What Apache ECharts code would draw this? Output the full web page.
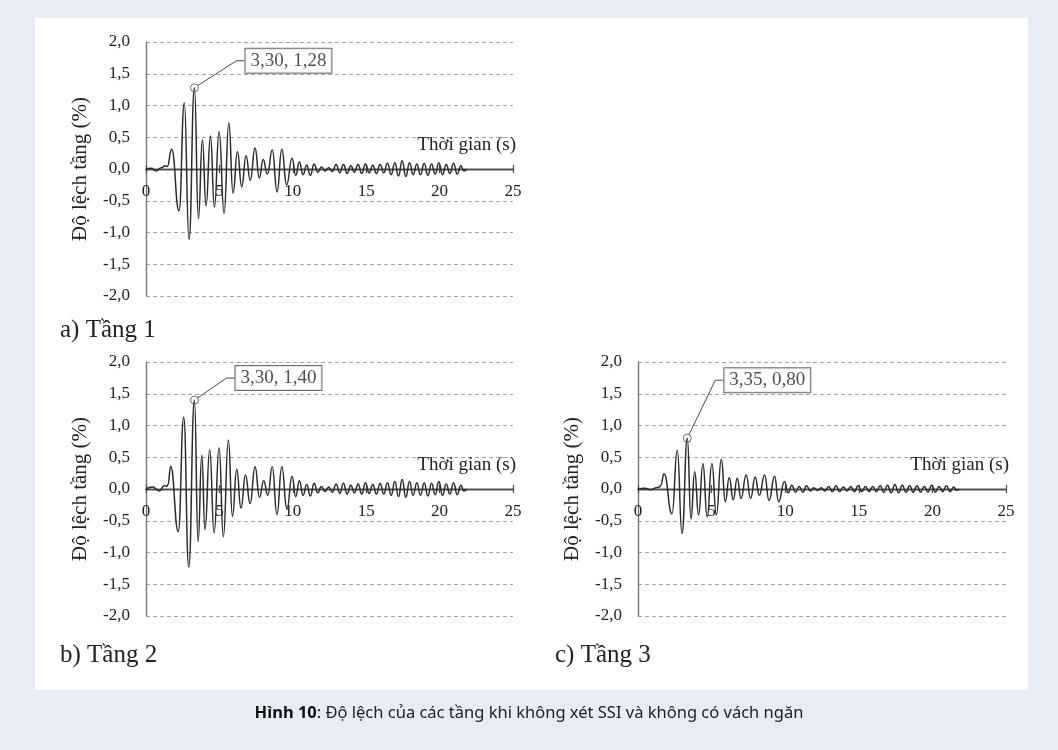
<!DOCTYPE html>
<html>
<head>
<meta charset="utf-8">
<script src="https://cdn.jsdelivr.net/npm/echarts@6/dist/echarts.min.js"></script>
<style>
  html, body { margin: 0; padding: 0; background: #e8ecf6; }
  #chart { width: 1058px; height: 750px; }
</style>
</head>
<body>
<div id="chart"></div>
<script>
// Story drift (%) versus time (s): turning points of each record
const floor1Drift = [
  [0, 0], [0.35, 0.01], [0.7, -0.03], [1.05, 0.02], [1.3, 0.05], [1.45, 0.04],
  [1.75, 0.31], [2.25, -0.66], [2.61, 1.04], [2.93, -1.11], [3.30, 1.28], [3.57, -0.78],
  [3.84, 0.46], [4.09, -0.58], [4.39, 0.52], [4.66, -0.6], [4.98, 0.59], [5.32, -0.70],
  [5.64, 0.73], [5.93, -0.38], [6.23, 0.27], [6.52, -0.28], [6.82, 0.21], [7.10, -0.18],
  [7.43, 0.33], [7.72, -0.14], [7.98, 0.15], [8.27, -0.08], [8.60, 0.30], [8.93, -0.36],
  [9.25, 0.31], [9.58, -0.25], [9.95, 0.17],
  [10.2, -0.10], [10.45, 0.11], [10.7, -0.09], [10.95, 0.06], [11.2, -0.10], [11.45, 0.08],
  [11.7, -0.05], [11.95, 0.03], [12.2, -0.03], [12.45, 0.02], [12.7, -0.04], [12.95, 0.07],
  [13.2, -0.06], [13.45, 0.07], [13.7, -0.07], [13.95, 0.05], [14.2, -0.05], [14.45, 0.07],
  [14.7, -0.07], [14.95, 0.08], [15.2, -0.06], [15.45, 0.06], [15.7, -0.07], [15.95, 0.07],
  [16.2, -0.06], [16.45, 0.09], [16.7, -0.09], [16.95, 0.10], [17.2, -0.11], [17.45, 0.13],
  [17.7, -0.12], [17.95, 0.10], [18.2, -0.09], [18.45, 0.08], [18.7, -0.09], [18.95, 0.09],
  [19.2, -0.10], [19.45, 0.08], [19.7, -0.08], [19.95, 0.10], [20.2, -0.09], [20.45, 0.07],
  [20.7, -0.07], [20.95, 0.09], [21.2, -0.08], [21.45, 0.05], [21.65, -0.03], [21.85, 0]
];

const floor2Drift = [
  [0, 0], [0.45, 0.03], [0.9, -0.03], [1.25, 0.05], [1.4, 0.04], [1.5, 0.07],
  [1.68, 0.36], [2.2, -0.67], [2.57, 1.13], [2.91, -1.23], [3.30, 1.40], [3.55, -0.83],
  [3.80, 0.53], [4.02, -0.64], [4.34, 0.62], [4.64, -0.69], [4.98, 0.65], [5.27, -0.75],
  [5.61, 0.77], [5.89, -0.43], [6.18, 0.31], [6.47, -0.30], [6.78, 0.22], [7.09, -0.23],
  [7.43, 0.35], [7.73, -0.13], [8.02, 0.13], [8.30, -0.10], [8.60, 0.35], [8.92, -0.40],
  [9.25, 0.35], [9.60, -0.32], [9.95, 0.20],
  [10.2, -0.12], [10.45, 0.13], [10.7, -0.10], [10.95, 0.07], [11.2, -0.11], [11.45, 0.09],
  [11.7, -0.06], [11.95, 0.04], [12.2, -0.04], [12.45, 0.03], [12.7, -0.05], [12.95, 0.08],
  [13.2, -0.07], [13.45, 0.09], [13.7, -0.08], [13.95, 0.06], [14.2, -0.06], [14.45, 0.08],
  [14.7, -0.08], [14.95, 0.10], [15.2, -0.07], [15.45, 0.07], [15.7, -0.08], [15.95, 0.09],
  [16.2, -0.08], [16.45, 0.10], [16.7, -0.10], [16.95, 0.12], [17.2, -0.12], [17.45, 0.15],
  [17.7, -0.13], [17.95, 0.12], [18.2, -0.10], [18.45, 0.10], [18.7, -0.10], [18.95, 0.10],
  [19.2, -0.11], [19.45, 0.09], [19.7, -0.09], [19.95, 0.12], [20.2, -0.10], [20.45, 0.08],
  [20.7, -0.08], [20.95, 0.10], [21.2, -0.09], [21.45, 0.06], [21.65, -0.03], [21.85, 0]
];

const floor3Drift = [
  [0, 0], [0.45, 0.01], [0.9, -0.01], [1.25, 0.02], [1.45, 0.03], [1.55, 0.06],
  [1.77, 0.24], [2.31, -0.39], [2.67, 0.61], [2.99, -0.70], [3.35, 0.80], [3.60, -0.47],
  [3.85, 0.27], [4.12, -0.41], [4.41, 0.40], [4.70, -0.44], [5.02, 0.40], [5.32, -0.41],
  [5.66, 0.47], [5.93, -0.20], [6.20, 0.18], [6.47, -0.17], [6.74, 0.17], [7.00, -0.15],
  [7.35, 0.22], [7.65, -0.15], [7.96, 0.19], [8.24, -0.10], [8.60, 0.22], [8.90, -0.18],
  [9.28, 0.20], [9.55, -0.20], [9.95, 0.12],
  [10.2, -0.06], [10.45, 0.06], [10.7, -0.05], [10.95, 0.04], [11.2, -0.05], [11.45, 0.05],
  [11.7, -0.03], [11.95, 0.02], [12.2, -0.02], [12.45, 0.02], [12.7, -0.03], [12.95, 0.04],
  [13.2, -0.04], [13.45, 0.05], [13.7, -0.04], [13.95, 0.03], [14.2, -0.03], [14.45, 0.04],
  [14.7, -0.04], [14.95, 0.05], [15.2, -0.04], [15.45, 0.04], [15.7, -0.04], [15.95, 0.04],
  [16.2, -0.04], [16.45, 0.05], [16.7, -0.05], [16.95, 0.06], [17.2, -0.06], [17.45, 0.07],
  [17.7, -0.06], [17.95, 0.06], [18.2, -0.05], [18.45, 0.05], [18.7, -0.05], [18.95, 0.05],
  [19.2, -0.05], [19.45, 0.04], [19.7, -0.05], [19.95, 0.06], [20.2, -0.05], [20.45, 0.04],
  [20.7, -0.04], [20.95, 0.05], [21.2, -0.04], [21.45, 0.03], [21.65, -0.02], [21.85, 0]
];

const panelTitles = ['a) Tầng 1', 'b) Tầng 2', 'c) Tầng 3'];
const timeAxisName = 'Thời gian (s)';
const driftAxisName = 'Độ lệch tầng (%)';
const captionBold = 'Hình 10';
const captionText = ': Độ lệch của các tầng khi không xét SSI và không có vách ngăn';

const timeRange = [0, 25, 5];
const driftRange = [-2, 2, 0.5];

// ---- layout ----
const serif = 'Liberation Serif, Times New Roman, serif';
const panels = [
  { data: floor1Drift, box: { left: 146, top: 42, width: 367, height: 254 }, shift: [94, -27], title: [60, 318] },
  { data: floor2Drift, box: { left: 146, top: 362, width: 367, height: 254 }, shift: [84, -22], title: [60, 643] },
  { data: floor3Drift, box: { left: 638, top: 362, width: 368, height: 254 }, shift: [80, -58], title: [555, 643] }
];
const n = panels.length;

const comma = (v, d) => v.toFixed(d).replace('.', ',');
const peakOf = data => data.reduce((a, b) => (b[1] > a[1] ? b : a));
const axisGray = '#4a4a4a';

const grid = [], xAxis = [], yAxis = [], series = [], title = [];

// Plot grids: full drift range, zero line carries upward tick marks
panels.forEach((p, i) => {
  grid.push(Object.assign({ containLabel: false, outerBoundsMode: 'none' }, p.box));

  xAxis.push({
    gridIndex: i, type: 'value', position: 'bottom',
    min: timeRange[0], max: timeRange[1], interval: timeRange[2],
    axisLine: { show: true, onZero: true, lineStyle: { color: axisGray, width: 1.4 } },
    axisTick: { show: true, inside: true, length: 4, lineStyle: { color: axisGray, width: 1.2 } },
    axisLabel: { show: false }, splitLine: { show: false }
  });

  yAxis.push({
    gridIndex: i, type: 'value', position: 'left',
    min: driftRange[0], max: driftRange[1], interval: driftRange[2],
    axisLine: { show: true, onZero: false, lineStyle: { color: '#777', width: 1.4 } },
    axisTick: { show: false },
    axisLabel: { margin: 16, fontFamily: serif, fontSize: 17, color: '#222', formatter: v => comma(v, 1) },
    splitLine: { show: true, lineStyle: { type: [4, 3], color: '#a4a4a4', width: 1 } },
    name: driftAxisName, nameLocation: 'middle', nameGap: 55, nameRotate: 90,
    nameTextStyle: { fontFamily: serif, fontSize: 21, color: '#222' }
  });

  series.push({
    type: 'line', xAxisIndex: i, yAxisIndex: i, data: p.data,
    showSymbol: false, smooth: 0.5, smoothMonotone: 'x',
    lineStyle: { color: '#2b2b2b', width: 1.5 }, z: 3, silent: true, animation: false
  });

  const peak = peakOf(p.data);
  series.push({
    type: 'scatter', xAxisIndex: i, yAxisIndex: i, data: [peak],
    symbol: 'circle', symbolSize: 8, z: 5, animation: false,
    itemStyle: { color: 'rgba(255,255,255,0)', borderColor: axisGray, borderWidth: 1 },
    label: {
      show: true, position: 'inside',
      formatter: prm => comma(prm.value[0], 2) + ', ' + comma(prm.value[1], 2),
      fontFamily: serif, fontSize: 19, color: '#222',
      backgroundColor: '#fff', borderColor: axisGray, borderWidth: 1, padding: [3, 5, 2, 5]
    },
    labelLine: { show: true, length2: 8, lineStyle: { color: axisGray, width: 1 } },
    labelLayout: prm => ({
      x: prm.rect.x + prm.rect.width / 2 + p.shift[0],
      y: prm.rect.y + prm.rect.height / 2 + p.shift[1],
      align: 'center', verticalAlign: 'middle'
    })
  });

  title.push({
    text: panelTitles[i], left: p.title[0], top: p.title[1], padding: 0,
    textStyle: { fontFamily: serif, fontSize: 25, fontWeight: 'normal', color: '#222' }
  });
});

// Upper-half grids: their bottom edge is the zero line, where the time axis
// labels, downward ticks and axis name sit
panels.forEach((p, i) => {
  grid.push({
    containLabel: false, outerBoundsMode: 'none',
    left: p.box.left, top: p.box.top, width: p.box.width, height: p.box.height / 2
  });
  xAxis.push({
    gridIndex: n + i, type: 'value', position: 'bottom', z: 1,
    min: timeRange[0], max: timeRange[1], interval: timeRange[2],
    axisLine: { show: true, onZero: false, lineStyle: { color: axisGray, width: 1.4 } },
    axisTick: { show: true, length: 4, lineStyle: { color: axisGray, width: 1.2 } },
    axisLabel: { margin: 14, fontFamily: serif, fontSize: 17, color: '#222' },
    splitLine: { show: false },
    name: timeAxisName, nameLocation: 'end', nameGap: 3,
    nameTextStyle: { fontFamily: serif, fontSize: 19, color: '#222', align: 'right', verticalAlign: 'bottom', padding: [0, 0, 14, 0] }
  });
  yAxis.push({
    gridIndex: n + i, type: 'value', position: 'left',
    min: 0, max: driftRange[1],
    axisLine: { show: false, onZero: false }, axisTick: { show: false },
    axisLabel: { show: false }, splitLine: { show: false }
  });
});

title.push({
  text: '{b|' + captionBold + '}' + captionText,
  left: 'center', top: 705, padding: 0,
  textStyle: {
    fontFamily: 'Noto Sans, sans-serif', fontSize: 16.5, fontWeight: 'normal', color: '#222',
    rich: { b: { fontFamily: 'Noto Sans, sans-serif', fontSize: 16.5, fontWeight: 'bold', color: '#111' } }
  }
});

const chart = echarts.init(document.getElementById('chart'), null, { renderer: 'canvas' });
chart.setOption({
  backgroundColor: 'transparent',
  animation: false,
  graphic: [{
    type: 'rect', z: -10, silent: true,
    shape: { x: 35, y: 18, width: 993, height: 672 },
    style: { fill: '#ffffff' }
  }],
  title, grid, xAxis, yAxis, series
});
</script>
</body>
</html>
